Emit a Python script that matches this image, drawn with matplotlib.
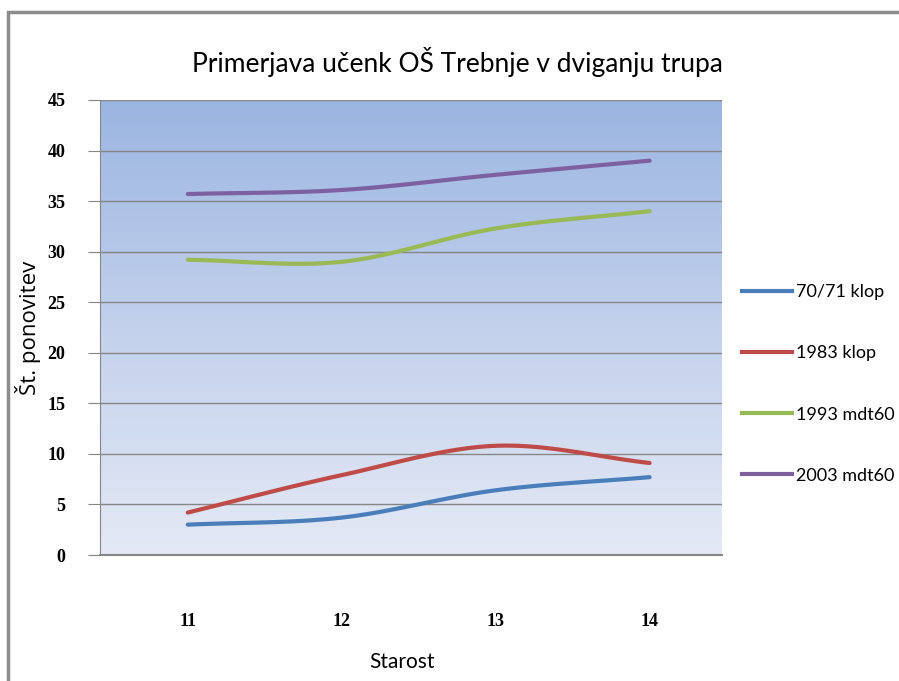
import numpy as np
import matplotlib
matplotlib.use("Agg")
import matplotlib.pyplot as plt
from matplotlib.colors import LinearSegmentedColormap
from matplotlib.patches import Rectangle
from matplotlib.lines import Line2D

ages = [11, 12, 13, 14]
series_names = ["70/71 klop", "1983 klop", "1993 mdt60", "2003 mdt60"]
s_7071 = [3.0, 3.7, 6.4, 7.7]
s_1983 = [4.2, 7.9, 10.8, 9.1]
s_1993 = [29.2, 29.0, 32.3, 34.0]
s_2003 = [35.7, 36.1, 37.6, 39.0]
colors = ["#4A7EBB", "#BE4B48", "#98B954", "#7D60A0"]
yticks = [0, 5, 10, 15, 20, 25, 30, 35, 40, 45]

W, H = 899, 681
fig = plt.figure(figsize=(W / 100, H / 100), dpi=100)
fig.patch.set_facecolor("white")

# outer border
fig.add_artist(Rectangle((8 / W, -0.01), 1.1, 1 - 12 / H + 0.01, transform=fig.transFigure,
                         fill=False, edgecolor="#8C8C8C", linewidth=2.5))

l, r, t, b = 100, 722, 100, 555
ax = fig.add_axes([l / W, 1 - b / H, (r - l) / W, (b - t) / H])
x0, x1 = 10.43, 14.47
ax.set_xlim(x0, x1)
ax.set_ylim(0, 45)

cmap = LinearSegmentedColormap.from_list("g", ["#E4E9F5", "#C3D1EC", "#9BB5E1"])
grad = np.linspace(0, 1, 256).reshape(-1, 1)
ax.imshow(grad, cmap=cmap, aspect="auto", origin="lower",
          extent=[x0, x1, 0, 45], zorder=0)

for y in yticks:
    ax.axhline(y, color="#868686", linewidth=1.0, zorder=1)


def smooth(xs, ys, n=40):
    xs = np.asarray(xs, float)
    ys = np.asarray(ys, float)
    px = np.concatenate([[2 * xs[0] - xs[1]], xs, [2 * xs[-1] - xs[-2]]])
    py = np.concatenate([[2 * ys[0] - ys[1]], ys, [2 * ys[-1] - ys[-2]]])
    ox, oy = [], []
    for i in range(1, len(px) - 2):
        tt = np.linspace(0, 1, n)
        for arr, p in ((ox, px), (oy, py)):
            p0, p1, p2, p3 = p[i - 1], p[i], p[i + 1], p[i + 2]
            arr.extend(0.5 * ((2 * p1) + (-p0 + p2) * tt
                              + (2 * p0 - 5 * p1 + 4 * p2 - p3) * tt ** 2
                              + (-p0 + 3 * p1 - 3 * p2 + p3) * tt ** 3))
    return np.array(ox), np.array(oy)


for vals, c in zip([s_7071, s_1983, s_1993, s_2003], colors):
    sx, sy = smooth(ages, vals)
    ax.plot(sx, sy, color=c, linewidth=3.0, solid_capstyle="round", zorder=3)

for s in ax.spines.values():
    s.set_visible(False)
ax.spines["left"].set_visible(True)
ax.spines["left"].set_color("#868686")
ax.spines["bottom"].set_visible(True)
ax.spines["bottom"].set_color("#868686")
ax.spines["bottom"].set_linewidth(1.5)

ax.set_yticks(yticks)
ax.set_yticklabels([str(v) for v in yticks], fontfamily="Liberation Serif",
                   fontsize=13, fontweight="bold")
ax.tick_params(axis="y", length=9, color="#868686", pad=16)
ax.set_xticks(ages)
ax.set_xticklabels([str(v) for v in ages], fontfamily="Liberation Serif",
                   fontsize=13, fontweight="bold")
ax.tick_params(axis="x", length=0, pad=42)

ax.set_xlabel("Starost", fontfamily="Lato", fontsize=15)
ax.xaxis.set_label_coords((402 - l) / (r - l), -(662 - b) / (b - t))
ax.xaxis.label.set_va("center")
ax.set_ylabel("Št. ponovitev", fontfamily="Open Sans", fontsize=16)
ax.yaxis.set_label_coords((28 - l) / (r - l), 0.5)
ax.yaxis.label.set_va("center")

fig.text(457 / W, 1 - 62 / H, "Primerjava učenk OŠ Trebnje v dviganju trupa",
         ha="center", va="center", fontfamily="Lato", fontsize=19)

handles = [Line2D([], [], color=c, linewidth=3.0) for c in colors]
leg = fig.legend(handles, series_names, loc="upper left",
                 bbox_to_anchor=(726 / W, 1 - 268 / H), frameon=False,
                 handlelength=2.75, handletextpad=0.2, labelspacing=2.5,
                 prop={"family": "Lato", "size": 13})

fig.savefig("out.png", dpi=100)
